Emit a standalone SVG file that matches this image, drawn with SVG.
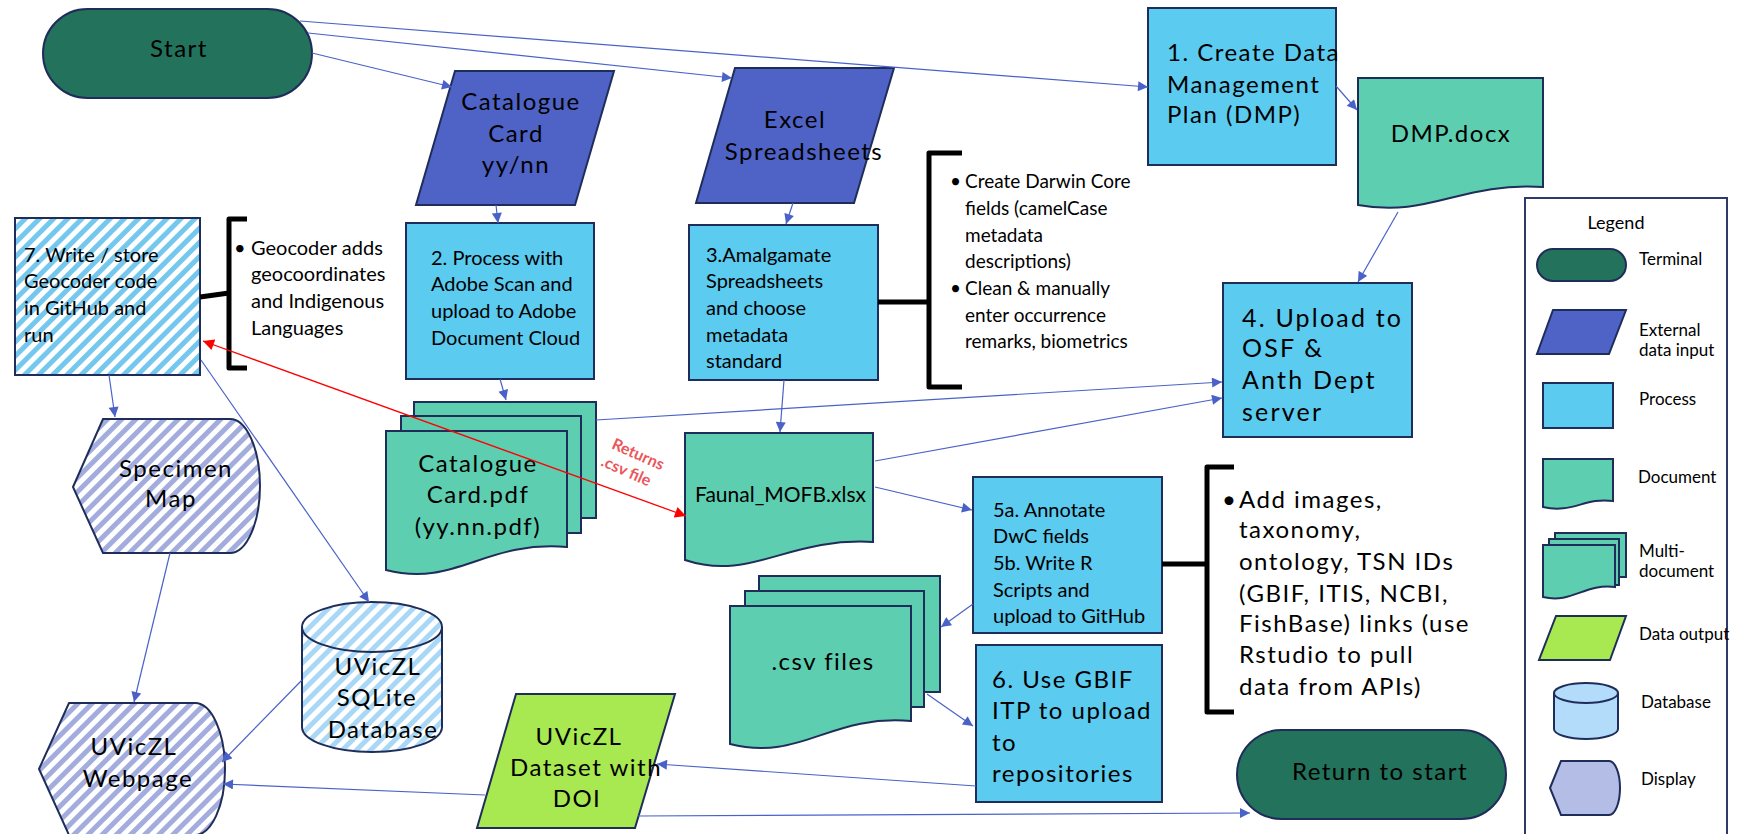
<svg xmlns="http://www.w3.org/2000/svg" width="1737" height="834" viewBox="0 0 1737 834">
<defs>
<style>
.t{font-family:Lato,"Liberation Sans",sans-serif;fill:#000}
.big{font-size:24px;letter-spacing:1.5px}
.mid{font-size:20px}
.sm{font-size:19px}
.lg{font-size:17px}
.term{fill:#23735C;stroke:#1F2D5A;stroke-width:2}
.ext{fill:#4F63C6;stroke:#1F2D5A;stroke-width:2}
.proc{fill:#5BCBF0;stroke:#1F2D5A;stroke-width:2}
.doc{fill:#5ECEB0;stroke:#1F2D5A;stroke-width:2}
.out{fill:#A8E850;stroke:#1F2D5A;stroke-width:2}
.c{fill:none;stroke:#4A62C8;stroke-width:1.2;marker-end:url(#arr)}
.br{fill:none;stroke:#000;stroke-width:5;stroke-linejoin:round}
</style>
<marker id="arr" viewBox="0 0 10 10" refX="10" refY="5" markerWidth="11" markerHeight="10" markerUnits="userSpaceOnUse" orient="auto"><path d="M0,0 L10,5 L0,10 z" fill="#4A62C8"/></marker>
<marker id="rarr" viewBox="0 0 10 10" refX="10" refY="5" markerWidth="12" markerHeight="11" markerUnits="userSpaceOnUse" orient="auto-start-reverse"><path d="M0,0 L10,5 L0,10 z" fill="#FF0000"/></marker>
<pattern id="hb" width="10" height="10" patternUnits="userSpaceOnUse" patternTransform="rotate(45)"><rect width="10" height="10" fill="#FFFFFF"/><rect width="5" height="10" fill="#74C7ED"/></pattern>
<pattern id="hdb" width="10" height="10" patternUnits="userSpaceOnUse" patternTransform="rotate(45)"><rect width="10" height="10" fill="#FFFFFF"/><rect width="5" height="10" fill="#A8D8F5"/></pattern>
<pattern id="hd" width="10" height="10" patternUnits="userSpaceOnUse" patternTransform="rotate(45)"><rect width="10" height="10" fill="#FFFFFF"/><rect width="5" height="10" fill="#A3ADDD"/></pattern>
</defs>
<rect width="1737" height="834" fill="#FFFFFF"/>

<g id="start">
<rect class="term" x="43" y="9" width="269" height="89" rx="44.5"/>
<text class="t big" x="179" y="57" text-anchor="middle">Start</text>
</g>

<g id="catalogue-card">
<polygon class="ext" points="455,71 614,71 575,205 416,205"/>
<text class="t big" text-anchor="middle"><tspan x="521" y="110">Catalogue</tspan><tspan x="516" y="142">Card</tspan><tspan x="516" y="173">yy/nn</tspan></text>
</g>

<g id="excel">
<polygon class="ext" points="735,68 894,68 854,203 696,203"/>
<text class="t big" text-anchor="middle"><tspan x="795" y="128">Excel</tspan><tspan x="804" y="160">Spreadsheets</tspan></text>
</g>

<g id="step1">
<rect class="proc" x="1148" y="8" width="188" height="157"/>
<text class="t big"><tspan x="1167" y="61">1. Create Data</tspan><tspan x="1167" y="93">Management</tspan><tspan x="1167" y="123">Plan (DMP)</tspan></text>
</g>

<g id="dmp">
<path class="doc" d="M1358,78 H1543 V187 C1460,182 1430,218 1358,205 Z"/>
<text class="t big" x="1451" y="142" text-anchor="middle">DMP.docx</text>
</g>

<g id="step7">
<rect x="15" y="218" width="185" height="157" fill="url(#hb)" stroke="#1F2D5A" stroke-width="2"/>
<text class="t mid"><tspan x="24" y="262">7. Write / store</tspan><tspan x="24" y="288">Geocoder code</tspan><tspan x="24" y="315">in GitHub and</tspan><tspan x="24" y="342">run</tspan></text>
</g>

<g id="note7">
<path class="br" d="M200,297 L229,293"/>
<path class="br" d="M247,219 H229 V368 H247"/>
<text class="t mid"><tspan x="234" y="255">•</tspan><tspan x="251" y="255">Geocoder adds</tspan><tspan x="251" y="281">geocoordinates</tspan><tspan x="251" y="308">and Indigenous</tspan><tspan x="251" y="335">Languages</tspan></text>
</g>

<g id="step2">
<rect class="proc" x="406" y="223" width="188" height="156"/>
<text class="t mid"><tspan x="431" y="265">2. Process with</tspan><tspan x="431" y="291">Adobe Scan and</tspan><tspan x="431" y="318">upload to Adobe</tspan><tspan x="431" y="345">Document Cloud</tspan></text>
</g>

<g id="step3">
<rect class="proc" x="689" y="225" width="189" height="155"/>
<text class="t mid"><tspan x="706" y="262">3.Amalgamate</tspan><tspan x="706" y="288">Spreadsheets</tspan><tspan x="706" y="315">and choose</tspan><tspan x="706" y="342">metadata</tspan><tspan x="706" y="368">standard</tspan></text>
</g>

<g id="note3">
<path class="br" d="M878,302 H929"/>
<path class="br" d="M962,153 H929 V387 H962"/>
<text class="t sm"><tspan x="950" y="188">•</tspan><tspan x="965" y="188">Create Darwin Core</tspan><tspan x="965" y="215">fields (camelCase</tspan><tspan x="965" y="242">metadata</tspan><tspan x="965" y="268">descriptions)</tspan><tspan x="950" y="295">•</tspan><tspan x="965" y="295">Clean &amp; manually</tspan><tspan x="965" y="322">enter occurrence</tspan><tspan x="965" y="348">remarks, biometrics</tspan></text>
</g>

<g id="step4">
<rect class="proc" x="1223" y="283" width="189" height="154"/>
<text class="t" font-size="25" letter-spacing="2.2"><tspan x="1242" y="327">4. Upload to</tspan><tspan x="1242" y="357">OSF &amp;</tspan><tspan x="1242" y="389">Anth Dept</tspan><tspan x="1242" y="421">server</tspan></text>
</g>

<g id="catalogue-pdf">
<rect class="doc" x="414" y="402" width="182" height="116"/>
<rect class="doc" x="401" y="416" width="180" height="117"/>
<path class="doc" d="M386,431 H567 V547 C485,540 455,588 386,570 Z"/>
<text class="t big" text-anchor="middle"><tspan x="478" y="472">Catalogue</tspan><tspan x="478" y="503">Card.pdf</tspan><tspan x="478" y="535">(yy.nn.pdf)</tspan></text>
</g>

<g id="faunal">
<path class="doc" d="M685,433 H873 V542 C788,537 751,582 685,560 Z"/>
<text class="t" x="695" y="502" font-size="21">Faunal_MOFB.xlsx</text>
</g>

<g id="returns-label">
<g transform="translate(632,463) rotate(24)" fill="#E8383D" opacity="0.85" font-family="Lato,'Liberation Sans',sans-serif" font-size="16" font-weight="bold" text-anchor="middle">
<text x="2" y="-5">Returns</text>
<text x="-2" y="15">.csv file</text>
</g>
</g>

<g id="step5">
<rect class="proc" x="973" y="477" width="189" height="156"/>
<text class="t mid"><tspan x="993" y="517">5a. Annotate</tspan><tspan x="993" y="543">DwC fields</tspan><tspan x="993" y="570">5b. Write R</tspan><tspan x="993" y="597">Scripts and</tspan><tspan x="993" y="623">upload to GitHub</tspan></text>
</g>

<g id="note5">
<path class="br" d="M1162,564 H1207"/>
<path class="br" d="M1234,467 H1207 V712 H1234"/>
<text class="t big"><tspan x="1222" y="508">•</tspan><tspan x="1239" y="508">Add images,</tspan><tspan x="1239" y="538">taxonomy,</tspan><tspan x="1239" y="570">ontology, TSN IDs</tspan><tspan x="1239" y="602">(GBIF, ITIS, NCBI,</tspan><tspan x="1239" y="632">FishBase) links (use</tspan><tspan x="1239" y="663">Rstudio to pull</tspan><tspan x="1239" y="695">data from APIs)</tspan></text>
</g>

<g id="csv-files">
<rect class="doc" x="759" y="576" width="181" height="116"/>
<rect class="doc" x="745" y="591" width="179" height="116"/>
<path class="doc" d="M730,606 H911 V721 C830,714 800,762 730,744 Z"/>
<text class="t big" x="823" y="670" text-anchor="middle">.csv files</text>
</g>

<g id="step6">
<rect class="proc" x="976" y="645" width="186" height="157"/>
<text class="t big"><tspan x="992" y="688">6. Use GBIF</tspan><tspan x="992" y="719">ITP to upload</tspan><tspan x="992" y="751">to</tspan><tspan x="992" y="782">repositories</tspan></text>
</g>

<g id="specimen-map">
<path d="M73,487 L103,419 H230 A30,67 0 0 1 230,553 H103 Z" fill="url(#hd)" stroke="#1F2D5A" stroke-width="2"/>
<text class="t big" text-anchor="middle"><tspan x="176" y="477">Specimen</tspan><tspan x="171" y="507">Map</tspan></text>
</g>

<g id="database">
<path d="M302,627 A70,25 0 0 1 442,627 V727 A70,25 0 0 1 302,727 Z" fill="url(#hdb)" stroke="#1F2D5A" stroke-width="2"/>
<path d="M302,627 A70,25 0 0 0 442,627" fill="none" stroke="#1F2D5A" stroke-width="2"/>
<text class="t big" text-anchor="middle"><tspan x="378" y="675">UVicZL</tspan><tspan x="377" y="706">SQLite</tspan><tspan x="383" y="738">Database</tspan></text>
</g>

<g id="webpage">
<path d="M39,769 L69,703 H195 A30,66 0 0 1 195,835 H69 Z" fill="url(#hd)" stroke="#1F2D5A" stroke-width="2"/>
<text class="t big" text-anchor="middle"><tspan x="134" y="755">UVicZL</tspan><tspan x="138" y="787">Webpage</tspan></text>
</g>

<g id="dataset">
<polygon class="out" points="516,694 675,694 635,828 477,828"/>
<text class="t big" text-anchor="middle"><tspan x="579" y="745">UVicZL</tspan><tspan x="586" y="776">Dataset with</tspan><tspan x="577" y="807">DOI</tspan></text>
</g>

<g id="return">
<rect class="term" x="1237" y="730" width="269" height="89" rx="44.5"/>
<text class="t big" x="1380" y="780" text-anchor="middle">Return to start</text>
</g>

<g id="legend">
<rect x="1525" y="198" width="202" height="660" fill="#FFFFFF" stroke="#2F3A6B" stroke-width="2"/>
<text class="t" x="1616" y="229" font-size="18" text-anchor="middle">Legend</text>
<rect class="term" x="1537" y="249" width="89" height="32" rx="16"/>
<text class="t lg" x="1639" y="265">Terminal</text>
<polygon class="ext" points="1553,310 1626,310 1609,354 1537,354"/>
<text class="t lg"><tspan x="1639" y="336">External</tspan><tspan x="1639" y="356">data input</tspan></text>
<rect class="proc" x="1543" y="383" width="70" height="45"/>
<text class="t lg" x="1639" y="405">Process</text>
<path class="doc" d="M1543,459 H1613 V501 C1585,497 1572,514 1543,507 Z"/>
<text class="t lg" x="1638" y="483">Document</text>
<rect class="doc" x="1555" y="533" width="71" height="44"/>
<rect class="doc" x="1549" y="539" width="70" height="46"/>
<path class="doc" d="M1543,545 H1615 V587 C1585,583 1572,604 1543,597 Z"/>
<text class="t lg"><tspan x="1639" y="557">Multi-</tspan><tspan x="1639" y="577">document</tspan></text>
<polygon class="out" points="1556,616 1626,616 1610,660 1539,660"/>
<text class="t lg" x="1639" y="640">Data output</text>
<path d="M1554,693 A32,10 0 0 1 1618,693 V729 A32,10 0 0 1 1554,729 Z" fill="#B3DCFA" stroke="#1F2D5A" stroke-width="2"/>
<path d="M1554,693 A32,10 0 0 0 1618,693" fill="none" stroke="#1F2D5A" stroke-width="2"/>
<text class="t lg" x="1641" y="708">Database</text>
<path d="M1550,788 L1561,761 H1609 A11,27 0 0 1 1609,815 H1561 Z" fill="#B4BDE6" stroke="#1F2D5A" stroke-width="2"/>
<text class="t lg" x="1641" y="785">Display</text>
</g>

<g id="connectors">
<path class="c" d="M300,21 L1148,87"/>
<path class="c" d="M308,33 L732,78"/>
<path class="c" d="M312,53 L452,87"/>
<path class="c" d="M496,205 L498,223"/>
<path class="c" d="M793,203 L786,224"/>
<path class="c" d="M1336,86 L1357,110"/>
<path class="c" d="M1398,212 L1358,282"/>
<path class="c" d="M500,379 L506,400"/>
<path class="c" d="M784,380 L780,432"/>
<path class="c" d="M596,420 L1222,382"/>
<path class="c" d="M875,461 L1222,398"/>
<path class="c" d="M875,487 L972,510"/>
<path class="c" d="M973,604 L941,627"/>
<path class="c" d="M927,694 L973,726"/>
<path class="c" d="M976,786 L657,764"/>
<path class="c" d="M638,816 L1250,813"/>
<path class="c" d="M485,795 L223,784"/>
<path class="c" d="M109,375 L115,417"/>
<path class="c" d="M201,360 L369,602"/>
<path class="c" d="M170,553 L134,702"/>
<path class="c" d="M302,680 L222,762"/>
<path d="M203,341 L686,516" fill="none" stroke="#FF0000" stroke-width="1.3" marker-start="url(#rarr)" marker-end="url(#rarr)"/>
</g>
</svg>
